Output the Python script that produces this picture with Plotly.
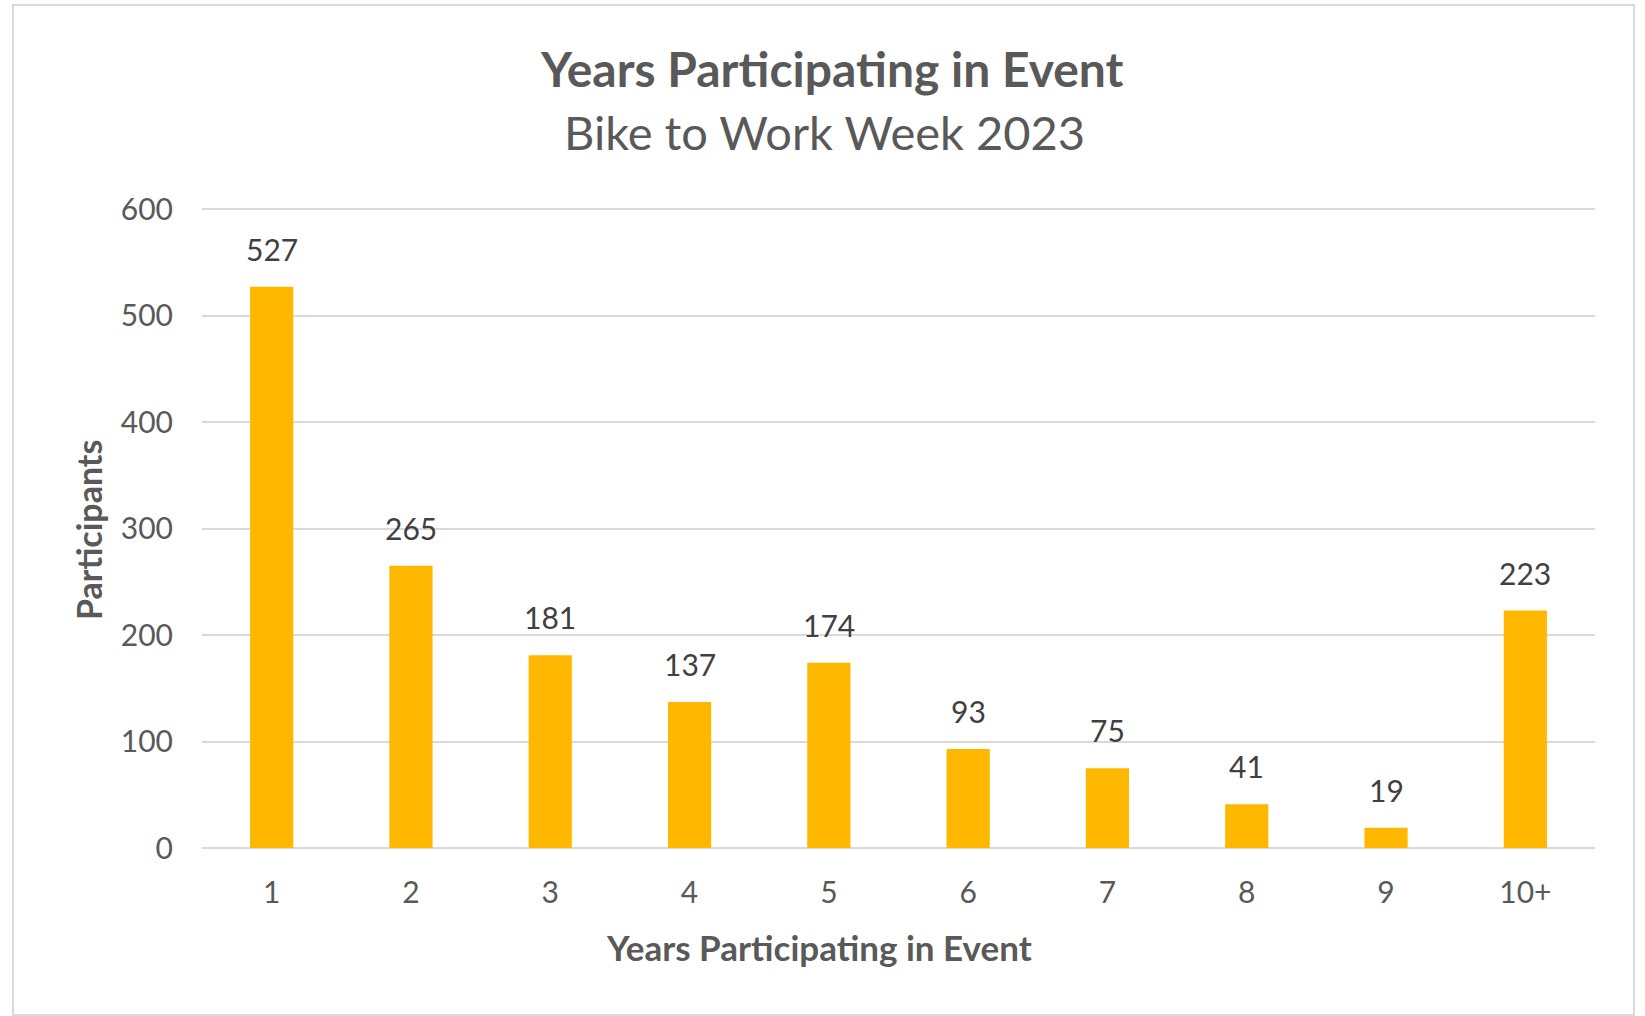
import plotly.graph_objects as go

categories = ["1", "2", "3", "4", "5", "6", "7", "8", "9", "10+"]
participants = [527, 265, 181, 137, 174, 93, 75, 41, 19, 223]
y_ticks = [0, 100, 200, 300, 400, 500, 600]

title_text = "Years Participating in Event"
subtitle_text = "Bike to Work Week 2023"
x_title = "Years Participating in Event"
y_title = "Participants"

W, H = 1645, 1016
L, R, T, B = 202, 50, 208, 168
PW, PH = W - L - R, H - T - B


def px_x(x):
    return (x - L) / PW


def px_y(y):
    return (H - B - y) / PH


FONT = "Lato"
GRAY = "#595959"
DARK = "#404040"

fig = go.Figure(
    go.Bar(
        x=categories,
        y=participants,
        marker=dict(color="#FFB700", line=dict(width=0)),
        width=0.31,
        hoverinfo="x+y",
    )
)

annotations = []
for i, v in enumerate(participants):
    annotations.append(dict(
        x=i, y=v, xref="x", yref="y", text=str(v), showarrow=False,
        yanchor="bottom", yshift=18, font=dict(family=FONT, size=30, color=DARK),
    ))

annotations += [
    dict(x=px_x(832), y=px_y(69), xref="paper", yref="paper", text="<b>" + title_text + "</b>",
         showarrow=False, xanchor="center", yanchor="middle",
         font=dict(family=FONT, size=48, color=GRAY)),
    dict(x=px_x(824), y=px_y(132), xref="paper", yref="paper", text=subtitle_text,
         showarrow=False, xanchor="center", yanchor="middle",
         font=dict(family=FONT, size=47, color=GRAY)),
    dict(x=px_x(819), y=px_y(947), xref="paper", yref="paper", text="<b>" + x_title + "</b>",
         showarrow=False, xanchor="center", yanchor="middle",
         font=dict(family=FONT, size=35, color=GRAY)),
    dict(x=px_x(88), y=px_y(530), xref="paper", yref="paper", text="<b>" + y_title + "</b>",
         showarrow=False, xanchor="center", yanchor="middle", textangle=-90,
         font=dict(family=FONT, size=34, color=GRAY)),
]

shapes = [
    dict(type="rect", xref="paper", yref="paper",
         x0=px_x(13), x1=px_x(1634), y0=px_y(1015), y1=px_y(5),
         line=dict(color="#D9D9D9", width=2), fillcolor="rgba(0,0,0,0)", layer="below"),
]

fig.update_layout(
    width=W, height=H,
    margin=dict(l=L, r=R, t=T, b=B, pad=0),
    paper_bgcolor="white", plot_bgcolor="white",
    showlegend=False,
    annotations=annotations,
    shapes=shapes,
    font=dict(family=FONT, color=GRAY),
    xaxis=dict(
        type="category", showgrid=False, zeroline=False, showline=False,
        ticks="", tickfont=dict(family=FONT, size=30, color=GRAY),
        ticklabelstandoff=24,
    ),
    yaxis=dict(
        range=[0, 601], tickvals=y_ticks, showgrid=True, gridcolor="#D9D9D9", gridwidth=2,
        zeroline=True, zerolinecolor="#D9D9D9", zerolinewidth=2, showline=False, ticks="",
        tickfont=dict(family=FONT, size=30, color=GRAY), ticklabelstandoff=28,
    ),
)

fig.write_html(
    "out.html",
    config={"displayModeBar": False},
    post_script="document.body.style.margin='0';document.body.style.overflow='hidden';",
)
